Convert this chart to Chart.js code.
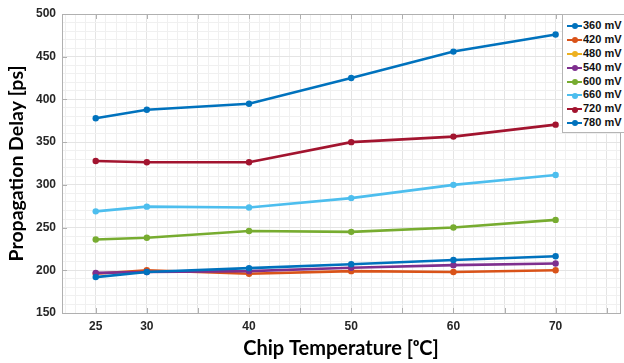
<!DOCTYPE html>
<html>
<head>
<meta charset="utf-8">
<script src="https://cdn.jsdelivr.net/npm/chart.js@4.4.1/dist/chart.umd.min.js"></script>
<style>
  html, body { margin: 0; padding: 0; background: #fff; }
  #wrap { position: relative; width: 624px; height: 363px; overflow: hidden; }
  #legend { position: absolute; left: 562px; top: 14px; width: 64px; height: 119px;
            border: 1px solid #b5b5b5; background: #fff; box-sizing: border-box; padding-top: 4px; }
  .row { position: relative; height: 13.9px; font: bold 11px "Liberation Sans", Arial, sans-serif;
         color: #111; white-space: nowrap; line-height: 13.9px; }
  .sw { position: absolute; left: 4px; top: 6px; width: 15px; height: 0; border-top: 2.5px solid; }
  .dot { position: absolute; left: 8.5px; top: 4.2px; width: 6px; height: 6px; border-radius: 50%; }
  .lbl { position: absolute; left: 20px; top: 0; }
</style>
</head>
<body>
<div id="wrap">
  <canvas id="c" width="624" height="363"></canvas>
  <div id="legend"></div>
</div>
<script>
// ---- data ----
const temps = [25, 30, 40, 50, 60, 70];
const seriesLabels = ['360 mV', '420 mV', '480 mV', '540 mV', '600 mV', '660 mV', '720 mV', '780 mV'];
const mv360 = [378, 388, 395, 425, 456, 476];
const mv420 = [196, 200, 196, 199, 198, 200];
const mv480 = [null, null, null, null, null, null];
const mv540 = [197, 198, 199, 203, 206, 208];
const mv600 = [236, 238, 246, 245, 250, 259];
const mv660 = [269, 274.5, 273.5, 284.5, 300, 311.5];
const mv720 = [328, 326.5, 326.5, 350, 356.5, 370.5];
const mv780 = [192, 198, 202.5, 207, 212, 216.5];
const xTickLabels = [25, 30, 40, 50, 60, 70];
const yTickLabels = [150, 200, 250, 300, 350, 400, 450, 500];

const seriesValues = [mv360, mv420, mv480, mv540, mv600, mv660, mv720, mv780];
const colors = ['#0072BD', '#D95319', '#EDB120', '#7E2F8E', '#77AC30', '#4DBEEE', '#A2142F', '#0072BD'];

const datasets = seriesValues.map((vals, i) => ({
  label: seriesLabels[i],
  data: temps.map((t, k) => ({ x: t, y: vals[k] })),
  borderColor: colors[i],
  backgroundColor: colors[i],
  pointBackgroundColor: colors[i],
  pointBorderWidth: 0,
  pointRadius: 3.2,
  borderWidth: 2.6,
  tension: 0,
  order: seriesValues.length - i
}));

// HTML legend from the same arrays
const leg = document.getElementById('legend');
seriesLabels.forEach((lab, i) => {
  const r = document.createElement('div'); r.className = 'row';
  const s = document.createElement('span'); s.className = 'sw'; s.style.borderColor = colors[i];
  const d = document.createElement('span'); d.className = 'dot'; d.style.background = colors[i];
  const t = document.createElement('span'); t.className = 'lbl'; t.textContent = lab;
  r.appendChild(s); r.appendChild(d); r.appendChild(t); leg.appendChild(r);
});

const frame = {
  id: 'frame',
  beforeDatasetsDraw(chart) {
    const { ctx, chartArea: a, scales } = chart;
    ctx.save();
    ctx.strokeStyle = '#b0b0b0';
    ctx.lineWidth = 1;
    ctx.strokeRect(Math.round(a.left) + 0.5, Math.round(a.top) + 0.5, a.right - a.left, a.bottom - a.top);
    ctx.beginPath();
    scales.x.ticks.forEach(t => {
      if (t.value % 5 === 0) {
        const px = Math.round(scales.x.getPixelForValue(t.value)) + 0.5;
        ctx.moveTo(px, a.bottom); ctx.lineTo(px, a.bottom - 5);
        ctx.moveTo(px, a.top); ctx.lineTo(px, a.top + 5);
      }
    });
    scales.y.ticks.forEach(t => {
      if (t.value % 50 === 0) {
        const py = Math.round(scales.y.getPixelForValue(t.value)) + 0.5;
        ctx.moveTo(a.left, py); ctx.lineTo(a.left + 5, py);
      }
    });
    ctx.stroke();
    ctx.restore();
  }
};

new Chart(document.getElementById('c'), {
  type: 'line',
  data: { datasets },
  plugins: [frame],
  options: {
    responsive: false,
    devicePixelRatio: 1,
    animation: false,
    layout: { padding: { top: 14, right: 0, left: 0, bottom: 0 } },
    plugins: { legend: { display: false }, tooltip: { enabled: false } },
    scales: {
      x: {
        type: 'linear', min: 21.7, max: 76.3,
        afterBuildTicks(s) { const arr = []; for (let v = 22; v <= 76; v++) arr.push({ value: v }); s.ticks = arr; },
        afterFit(s) { s.height = 50; },
        ticks: {
          autoSkip: false, maxRotation: 0, padding: 6,
          color: '#262626', font: { family: 'Liberation Sans', weight: 'bold', size: 12 },
          callback: v => xTickLabels.includes(v) ? String(v) : ''
        },
        grid: { drawTicks: false, color: c => (c.tick && c.tick.value % 5 === 0) ? '#e4e4e4' : '#f0f0f0' },
        border: { display: false },
        title: { display: true, text: 'Chip Temperature [ᵒC]', color: '#000',
                 font: { family: 'Lato', weight: 'bold', size: 20 }, padding: { top: 0, bottom: 2 } }
      },
      y: {
        type: 'linear', min: 150, max: 500,
        afterBuildTicks(s) { const arr = []; for (let v = 150; v <= 500; v += 10) arr.push({ value: v }); s.ticks = arr; },
        afterFit(s) { s.width = 62; },
        ticks: {
          autoSkip: false, padding: 6,
          color: '#262626', font: { family: 'Liberation Sans', weight: 'bold', size: 12 },
          callback: v => yTickLabels.includes(v) ? String(v) : ''
        },
        grid: { drawTicks: false, color: c => (c.tick && c.tick.value % 50 === 0) ? '#e4e4e4' : '#f0f0f0' },
        border: { display: false },
        title: { display: true, text: 'Propagation Delay [ps]', color: '#000',
                 font: { family: 'Lato', weight: 'bold', size: 19.5 }, padding: { top: 5, bottom: 0 } }
      }
    }
  }
});
</script>
</body>
</html>
